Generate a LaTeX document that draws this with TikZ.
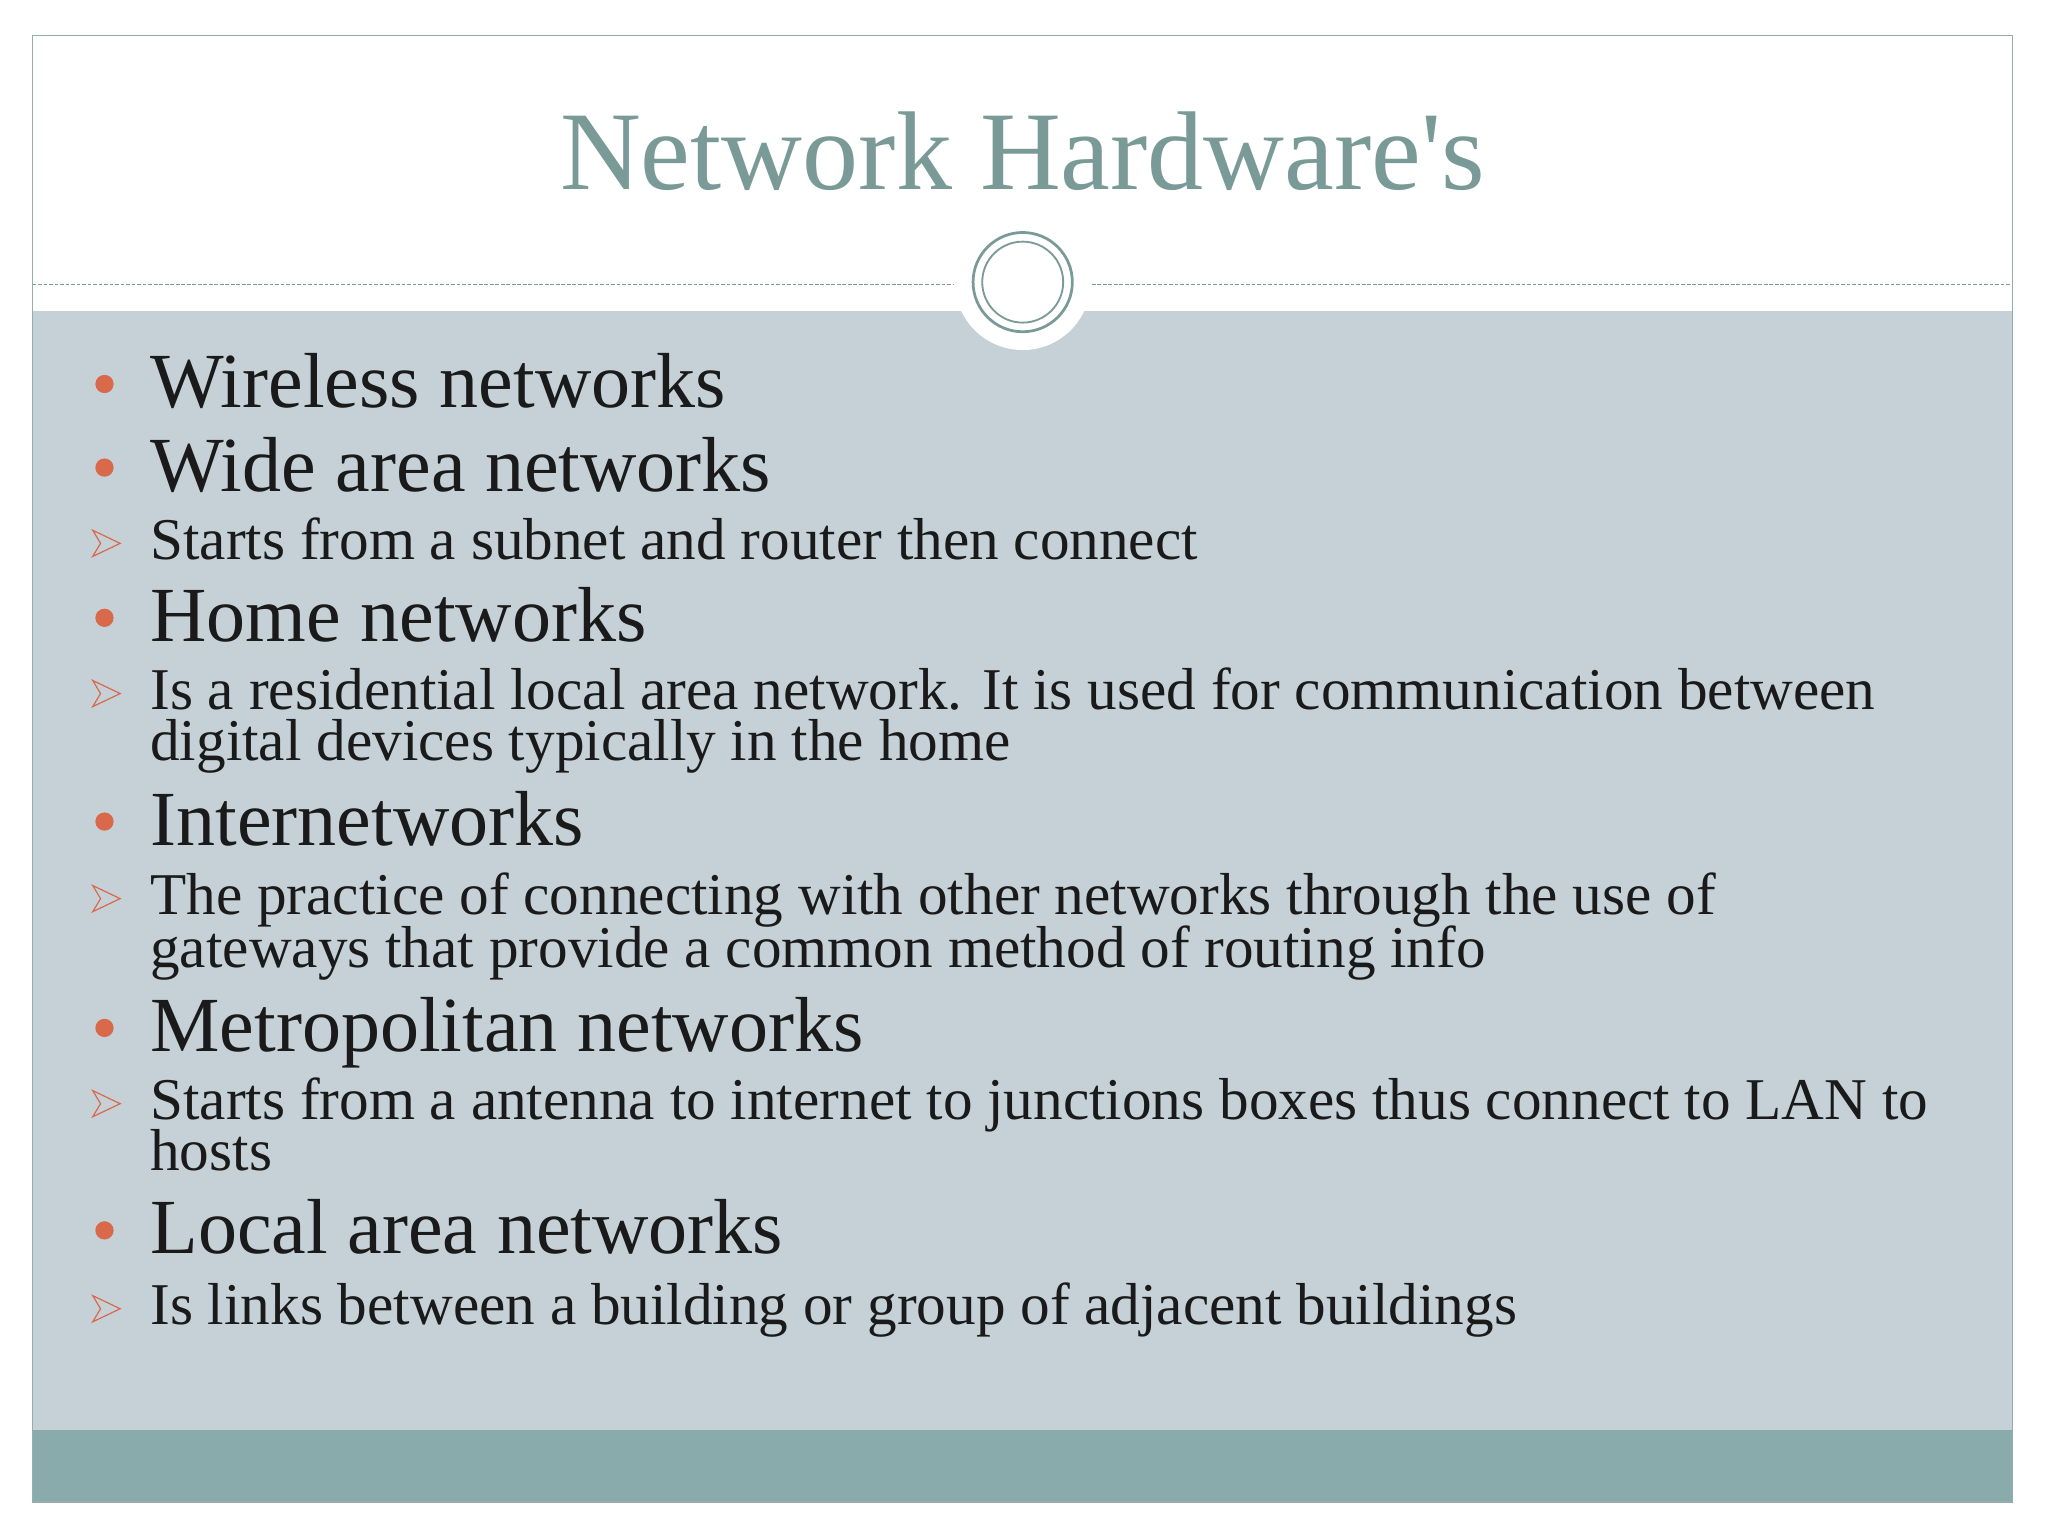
\documentclass[tikz,border=0pt]{standalone}
\usepackage{fontspec}
\setmainfont{Liberation Serif}
\newfontfamily\titlefont[Ligatures=ResetAll]{Liberation Serif}
\definecolor{teal1}{HTML}{7A9A98}
\definecolor{body}{HTML}{C5D1D7}
\definecolor{foot}{HTML}{8AABAB}
\definecolor{orng}{HTML}{D9694B}
\definecolor{ink}{HTML}{1A1A1A}
\begin{document}
\begin{tikzpicture}[x=0.05cm,y=-0.05cm,
  main/.style={anchor=base west,inner sep=0,text=ink,font=\fontsize{85}{90}\selectfont},
  sub/.style={anchor=base west,inner sep=0,text=ink,font=\fontsize{64.5}{56}\selectfont},
  dot/.style={fill=orng,draw=none}]
\useasboundingbox (0,0) rectangle (1568,1176);
\fill[white] (0,0) rectangle (1568,1176);
\fill[body] (25,238) rectangle (1541,1095);
\fill[foot] (25,1095) rectangle (1541,1150);
\fill[white] (783,216) circle (52);
\draw[teal1,dash pattern=on 4pt off 2pt,line width=1.2pt] (25,218) -- (730,218) (836,218) -- (1541,218);
\draw[teal1,line width=3pt] (783,216) circle (38);
\draw[teal1,line width=2pt] (783,216) circle (31);
\draw[teal1!80,line width=1.5pt] (25,27) rectangle (1541,1150);
\node[anchor=base,inner sep=0,text=teal1,font=\titlefont\fontsize{122}{122}\selectfont] (title) at (783,145) {Network Hardware's};
\newcommand{\mb}[1]{\fill[dot] (80,#1-18) circle (7);}
\newcommand{\ab}[1]{\draw[orng,line width=1.3pt,line join=miter] (71,#1-22) -- (92,#1-12) -- (71,#1-2) -- (77,#1-12) -- cycle;}
\mb{312}\node[main] (a) at (115,312) {Wireless networks};
\mb{376}\node[main] (b) at (115,376) {Wide area networks};
\ab{428}\node[sub] (c) at (115,428) {Starts from a subnet and router then connect};
\mb{491}\node[main] (d) at (115,491) {Home networks};
\ab{543}\node[sub] (e) at (115,543) {Is a residential local area network. It is used for communication between};
\node[sub] (e2) at (115,582) {digital devices typically in the home};
\mb{647}\node[main] (f) at (115,647) {Internetworks};
\ab{700}\node[sub] (g) at (115,700) {The practice of connecting with other networks through the use of};
\node[sub] (g2) at (115,741) {gateways that provide a common method of routing info};
\mb{805}\node[main] (h) at (115,805) {Metropolitan networks};
\ab{857}\node[sub] (i) at (115,857) {Starts from a antenna to internet to junctions boxes thus connect to LAN to};
\node[sub] (i2) at (115,896) {hosts};
\mb{960}\node[main] (j) at (115,960) {Local area networks};
\ab{1014}\node[sub] (k) at (115,1014) {Is links between a building or group of adjacent buildings};
\end{tikzpicture}
\end{document}
